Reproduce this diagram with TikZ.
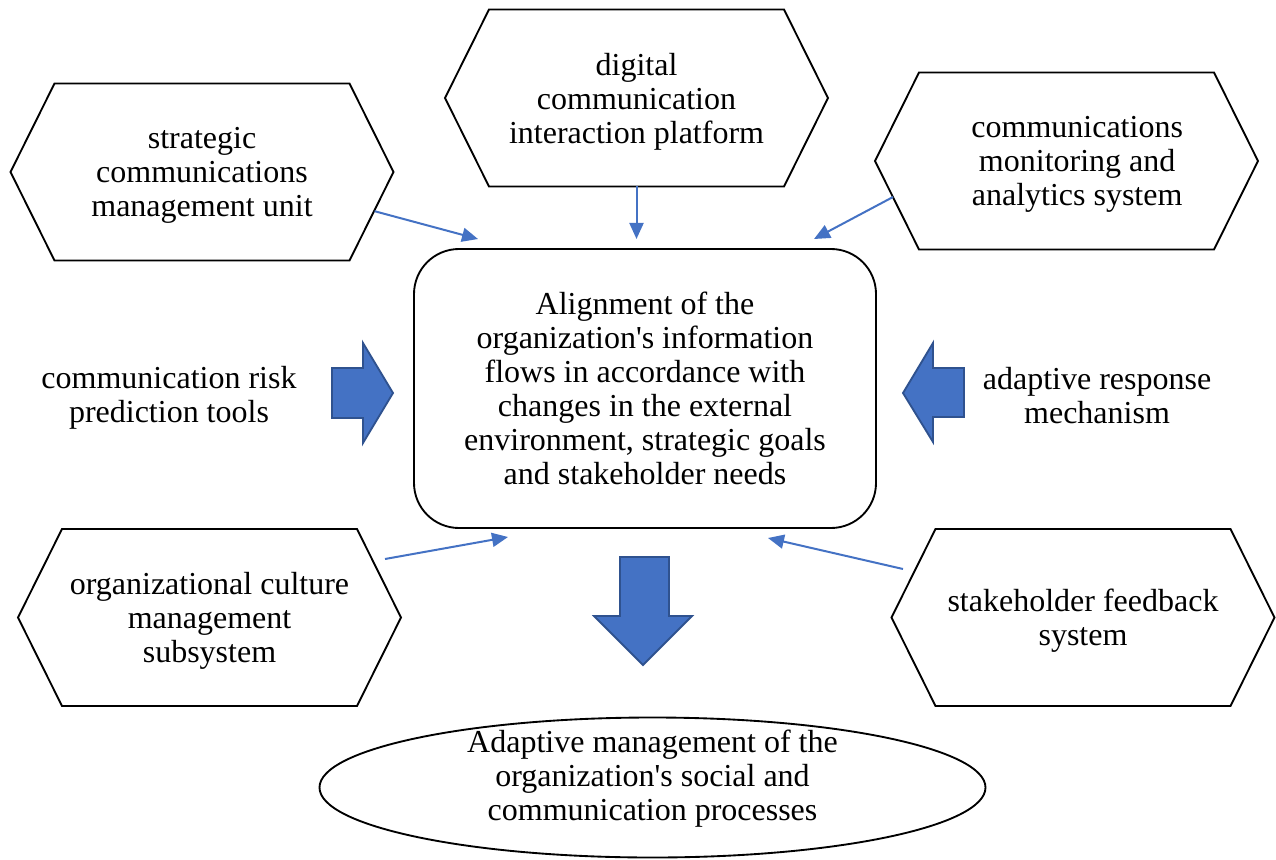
\documentclass[tikz,border=0pt]{standalone}
\usepackage{fontspec}
\setmainfont{Liberation Serif}
\usetikzlibrary{calc,arrows.meta,shapes.geometric}
\definecolor{accent}{HTML}{4472C4}
\definecolor{accentdark}{HTML}{2F528F}
\tikzset{
  txt/.style={font=\fontsize{24}{25.5}\selectfont, align=center, inner sep=0pt, outer sep=0pt},
  hexbox/.style={txt},
  hexline/.style={draw=black, line width=1.4pt, line join=miter},
  centralbox/.style={txt, draw=black, line width=1.4pt, rounded corners=33.75pt,
    minimum width=346.5pt, minimum height=209.25pt},
  outcome/.style={draw=black, line width=1.4pt, ellipse, inner sep=0pt,
    minimum width=499.5pt, minimum height=105pt},
  link/.style={draw=accent, line width=1.5pt, -{Triangle[length=12pt,width=10.5pt]}},
  blockarrow/.style={fill=accent, draw=accentdark, line width=1.4pt, line join=miter}
}
% elongated hexagon around a text node; the outline sits 3.5 units above the text centre
\newcommand\hexoutline[1]{%
  \draw[hexline] ($(#1)+(-191.5,-3.5)$) -- ($(#1)+(-147.5,-92)$) -- ($(#1)+(147.5,-92)$)
    -- ($(#1)+(191.5,-3.5)$) -- ($(#1)+(147.5,85)$) -- ($(#1)+(-147.5,85)$) -- cycle;}
\begin{document}
\begin{tikzpicture}[x=0.75pt, y=-0.75pt]
\useasboundingbox (0,0) rectangle (1276,859);

% outer subsystems
\node[hexbox] (h1) at (202,175.5) {strategic\\communications\\management unit};
\node[hexbox] (h2) at (636.5,101.5) {digital\\communication\\interaction platform};
\node[hexbox] (h3) at (1066.5,164.5) {\hspace*{16pt}communications\\\hspace*{16pt}monitoring and\\\hspace*{16pt}analytics system};
\node[hexbox] (h4) at (209.5,621) {organizational culture\\management\\subsystem};
\node[hexbox] (h5) at (1083,621) {stakeholder feedback\\system};
\foreach \n in {h1,h2,h3,h4,h5} \hexoutline{\n};

% central process and result
\node[centralbox] (core) at (645,388.5) {Alignment of the\\organization\textquotesingle s information\\flows in accordance with\\changes in the external\\environment, strategic goals\\and stakeholder needs};
\node[outcome] (result) at (652.5,787.5) {};
\node[txt] (resulttext) at ($(result.center)+(0,-9)$) {Adaptive management of the\\organization\textquotesingle s social and\\communication processes};

% side mechanisms
\node[txt] (risk) at (169,397.5) {communication risk\\prediction tools};
\node[txt] (adapt) at (1097,396) {adaptive response\\mechanism};

% thin connectors
\coordinate (s1) at ($(h1)+(172.6,35.7)$);
\coordinate (s2) at ($(h2)+(0,85)$);
\coordinate (s3) at ($(h3)+(-173.5,32.5)$);
\coordinate (s4) at (385,559);
\coordinate (s5) at (903,569);
\coordinate (e1) at (478,239);
\coordinate (e2) at (636.5,239);
\coordinate (e3) at (814,239);
\coordinate (e4) at (508,537);
\coordinate (e5) at (768,538);
\draw[link] (s1) -- (e1);
\draw[link] (s2) -- (e2);
\draw[link] (s3) -- (e3);
\draw[link] (s4) -- (e4);
\draw[link] (s5) -- (e5);

% block arrows
\draw[blockarrow] (332,368) -- (363,368) -- (363,343) -- (393,393) -- (363,443) -- (363,418) -- (332,418) -- cycle;
\draw[blockarrow] (964,368) -- (933,368) -- (933,343) -- (903,393) -- (933,442) -- (933,417) -- (964,417) -- cycle;
\draw[blockarrow] (620,557) -- (669,557) -- (669,616) -- (692,616) -- (643,665) -- (594,616) -- (620,616) -- cycle;
\end{tikzpicture}
\end{document}
